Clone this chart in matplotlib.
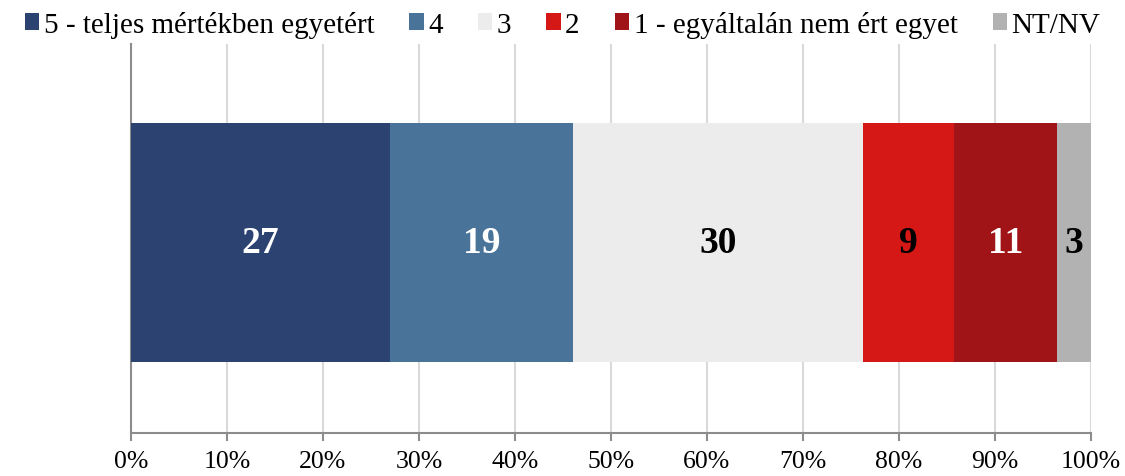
import matplotlib.pyplot as plt
from matplotlib.patches import Patch

plt.rcParams['font.family'] = ['Liberation Serif', 'DejaVu Serif']

# answer categories and shares (%)
categories = ["5 - teljes mértékben egyetért", "4", "3", "2",
              "1 - egyáltalán nem ért egyet", "NT/NV"]
shares = [27.0, 19.0, 30.3, 9.4, 10.8, 3.5]
labels = ["27", "19", "30", "9", "11", "3"]
colors = ["#2c4270", "#4a7399", "#ececec", "#d51715", "#a01418", "#b2b2b2"]
label_colors = ["white", "white", "black", "black", "white", "black"]
ticks = list(range(0, 101, 10))

fig = plt.figure(figsize=(11.25, 4.77), dpi=100)
ax = fig.add_axes([131 / 1125, 1 - 434 / 477, 960 / 1125, 389 / 477])

left = 0
for share, lab, col, lcol in zip(shares, labels, colors, label_colors):
    ax.barh(0, share, left=left, height=0.614, color=col, zorder=3)
    ax.text(left + share / 2, 0, lab, ha="center", va="center",
            fontsize=27, fontweight="bold", color=lcol, zorder=4)
    left += share

ax.set_xlim(0, 100)
ax.set_ylim(-0.49, 0.51)
ax.set_xticks(ticks)
ax.set_xticklabels([f"{t}%" for t in ticks], fontsize=18.5)
ax.set_yticks([])
ax.grid(axis="x", color="#d9d9d9", linewidth=1.5, zorder=0)
for s in ["top", "right"]:
    ax.spines[s].set_visible(False)
for s in ["left", "bottom"]:
    ax.spines[s].set_color("#8c8c8c")
    ax.spines[s].set_linewidth(1.5)
ax.tick_params(axis="x", length=6, width=1.5, color="#8c8c8c", pad=6)

handles = [Patch(facecolor=c, edgecolor="none") for c in colors]
fig.legend(handles, categories, loc="upper center", bbox_to_anchor=(0.5, 1.03),
           ncol=6, frameon=False, fontsize=21, handlelength=0.5, handleheight=0.5,
           handletextpad=0.15, columnspacing=1.2)

fig.savefig("out.png", dpi=100)
